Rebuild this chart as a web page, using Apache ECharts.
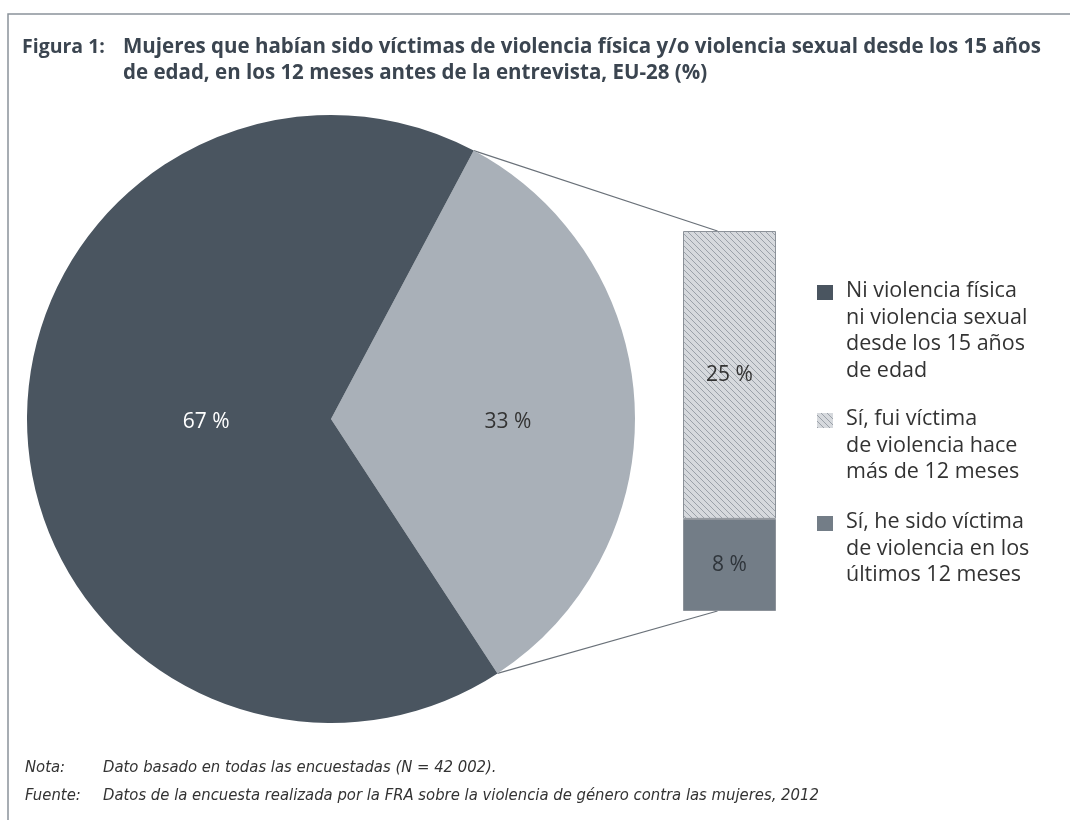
<!DOCTYPE html>
<html>
<head>
<meta charset="UTF-8">
<title>Figura 1</title>
<script src="https://cdn.jsdelivr.net/npm/echarts@6/dist/echarts.min.js"></script>
<style>
  body { margin: 0; background: #ffffff; }
  #chart { width: 1070px; height: 820px; }
</style>
</head>
<body>
<div id="chart"></div>
<script>
// datos
var pieNames = ['Sí, he sido víctima de violencia', 'Ni violencia física ni violencia sexual desde los 15 años de edad'];
var pieValues = [33, 67];
var barNames = ['Sí, he sido víctima de violencia en los últimos 12 meses', 'Sí, fui víctima de violencia hace más de 12 meses'];
var barValues = [8, 25];
var legendLabels = [
  'Ni violencia física\nni violencia sexual\ndesde los 15 años\nde edad',
  'Sí, fui víctima\nde violencia hace\nmás de 12 meses',
  'Sí, he sido víctima\nde violencia en los\núltimos 12 meses'
];
var titleLabel = 'Figura 1:';
var titleText = 'Mujeres que habían sido víctimas de violencia física y/o violencia sexual desde los 15 años\nde edad, en los 12 meses antes de la entrevista, EU-28 (%)';
var notaText = 'Dato basado en todas las encuestadas (N = 42 002).';
var fuenteText = 'Datos de la encuesta realizada por la FRA sobre la violencia de género contra las mujeres, 2012';

var DARK = '#4a5560', LIGHT = '#a9b0b8', MID = '#737d87', BORDER = '#8c9299';

// trama diagonal para la barra
function hatch() {
  var s = 6;
  var c = document.createElement('canvas');
  c.width = s; c.height = s;
  var g = c.getContext('2d');
  g.fillStyle = '#d6d9dd';
  g.fillRect(0, 0, s, s);
  g.strokeStyle = '#9ba1a9';
  g.lineWidth = 1;
  g.beginPath();
  g.moveTo(-1, -1); g.lineTo(s + 1, s + 1);
  g.moveTo(s - 1, -1); g.lineTo(s + 1, 1);
  g.moveTo(-1, s - 1); g.lineTo(1, s + 1);
  g.stroke();
  return c;
}
var hatchFill = { image: hatch(), repeat: 'repeat' };

var pieCenter = [331, 419], pieRadius = 304, startAngle = 62;
var total = barValues[0] + barValues[1];

var titleStyle = { fontFamily: 'Open Sans', fontWeight: 'bold', fontSize: 20.5, lineHeight: 26, color: '#3b4550' };
var labelStyle = { fontFamily: 'Open Sans', fontWeight: 'bold', fontSize: 19.5, lineHeight: 26, color: '#3b4550' };
var noteStyle = { fontFamily: 'Liberation Sans Narrow, DejaVu Sans Condensed', fontStyle: 'italic', fontWeight: 'normal', fontSize: 16.5, color: '#333' };

var chart = echarts.init(document.getElementById('chart'));
chart.setOption({
  animation: false,
  backgroundColor: '#ffffff',
  title: [
    { text: titleLabel, left: 22, top: 34, padding: 0, textStyle: labelStyle },
    { text: titleText, left: 123, top: 34, padding: 0, textStyle: titleStyle },
    { text: 'Nota:', left: 25, top: 759, padding: 0, textStyle: noteStyle },
    { text: notaText, left: 103, top: 759, padding: 0, textStyle: noteStyle },
    { text: 'Fuente:', left: 25, top: 787, padding: 0, textStyle: noteStyle },
    { text: fuenteText, left: 103, top: 787, padding: 0, textStyle: noteStyle }
  ],
  grid: { left: 683, top: 231, width: 93, height: 380 },
  xAxis: { type: 'category', data: [''], show: false },
  yAxis: { type: 'value', min: 0, max: total, show: false },
  series: [
    {
      type: 'pie',
      center: pieCenter,
      radius: pieRadius,
      startAngle: startAngle,
      clockwise: true,
      silent: true,
      labelLine: { show: false },
      label: { position: 'inside', formatter: '{c} %', fontFamily: 'Open Sans', fontSize: 21 },
      data: [
        { name: pieNames[0], value: pieValues[0], itemStyle: { color: LIGHT },
          label: { color: '#333', offset: [22, 10] } },
        { name: pieNames[1], value: pieValues[1], itemStyle: { color: DARK },
          label: { color: '#ffffff', offset: [30, -4] } }
      ]
    },
    {
      type: 'bar', name: barNames[0], stack: 's', barWidth: '100%', silent: true,
      data: [barValues[0]],
      itemStyle: { color: MID, borderColor: BORDER, borderWidth: 1 },
      label: { show: true, position: 'inside', formatter: '{c} %', color: '#2f353b', fontFamily: 'Open Sans', fontSize: 21 }
    },
    {
      type: 'bar', name: barNames[1], stack: 's', barWidth: '100%', silent: true,
      data: [barValues[1]],
      itemStyle: { color: hatchFill, borderColor: BORDER, borderWidth: 1 },
      label: { show: true, position: 'inside', formatter: '{c} %', color: '#333', fontFamily: 'Open Sans', fontSize: 21 }
    }
  ]
});

// líneas de unión entre el sector y la barra
function piePoint(deg) {
  var a = deg * Math.PI / 180;
  return [pieCenter[0] + pieRadius * Math.cos(a), pieCenter[1] - pieRadius * Math.sin(a)];
}
var pTop = piePoint(startAngle);
var pBot = piePoint(startAngle - 360 * pieValues[0] / 100);
var bTop = chart.convertToPixel({ gridIndex: 0 }, [0, total]);
var bBot = chart.convertToPixel({ gridIndex: 0 }, [0, 0]);

var legendFills = [DARK, hatchFill, MID];
var legendTops = [283, 411, 514];
var graphics = [
  { type: 'polyline', shape: { points: [[8, 900], [8, 14], [1100, 14]] }, style: { stroke: '#8a939b', lineWidth: 1.5, fill: null } },
  { type: 'line', shape: { x1: pTop[0], y1: pTop[1], x2: bTop[0] - 12, y2: bTop[1] }, style: { stroke: '#6a7179', lineWidth: 1.2 } },
  { type: 'line', shape: { x1: pBot[0], y1: pBot[1], x2: bBot[0] - 12, y2: bBot[1] }, style: { stroke: '#6a7179', lineWidth: 1.2 } }
];
legendLabels.forEach(function (t, i) {
  graphics.push({ type: 'rect', shape: { x: 817, y: legendTops[i] + 2, width: 16, height: 15 }, style: { fill: legendFills[i] } });
  graphics.push({ type: 'text', left: 846, top: legendTops[i] - 5,
    style: { text: t, font: '21.5px "Open Sans"', lineHeight: 26.5, fill: '#333' } });
});
chart.setOption({ graphic: graphics });
</script>
</body>
</html>
